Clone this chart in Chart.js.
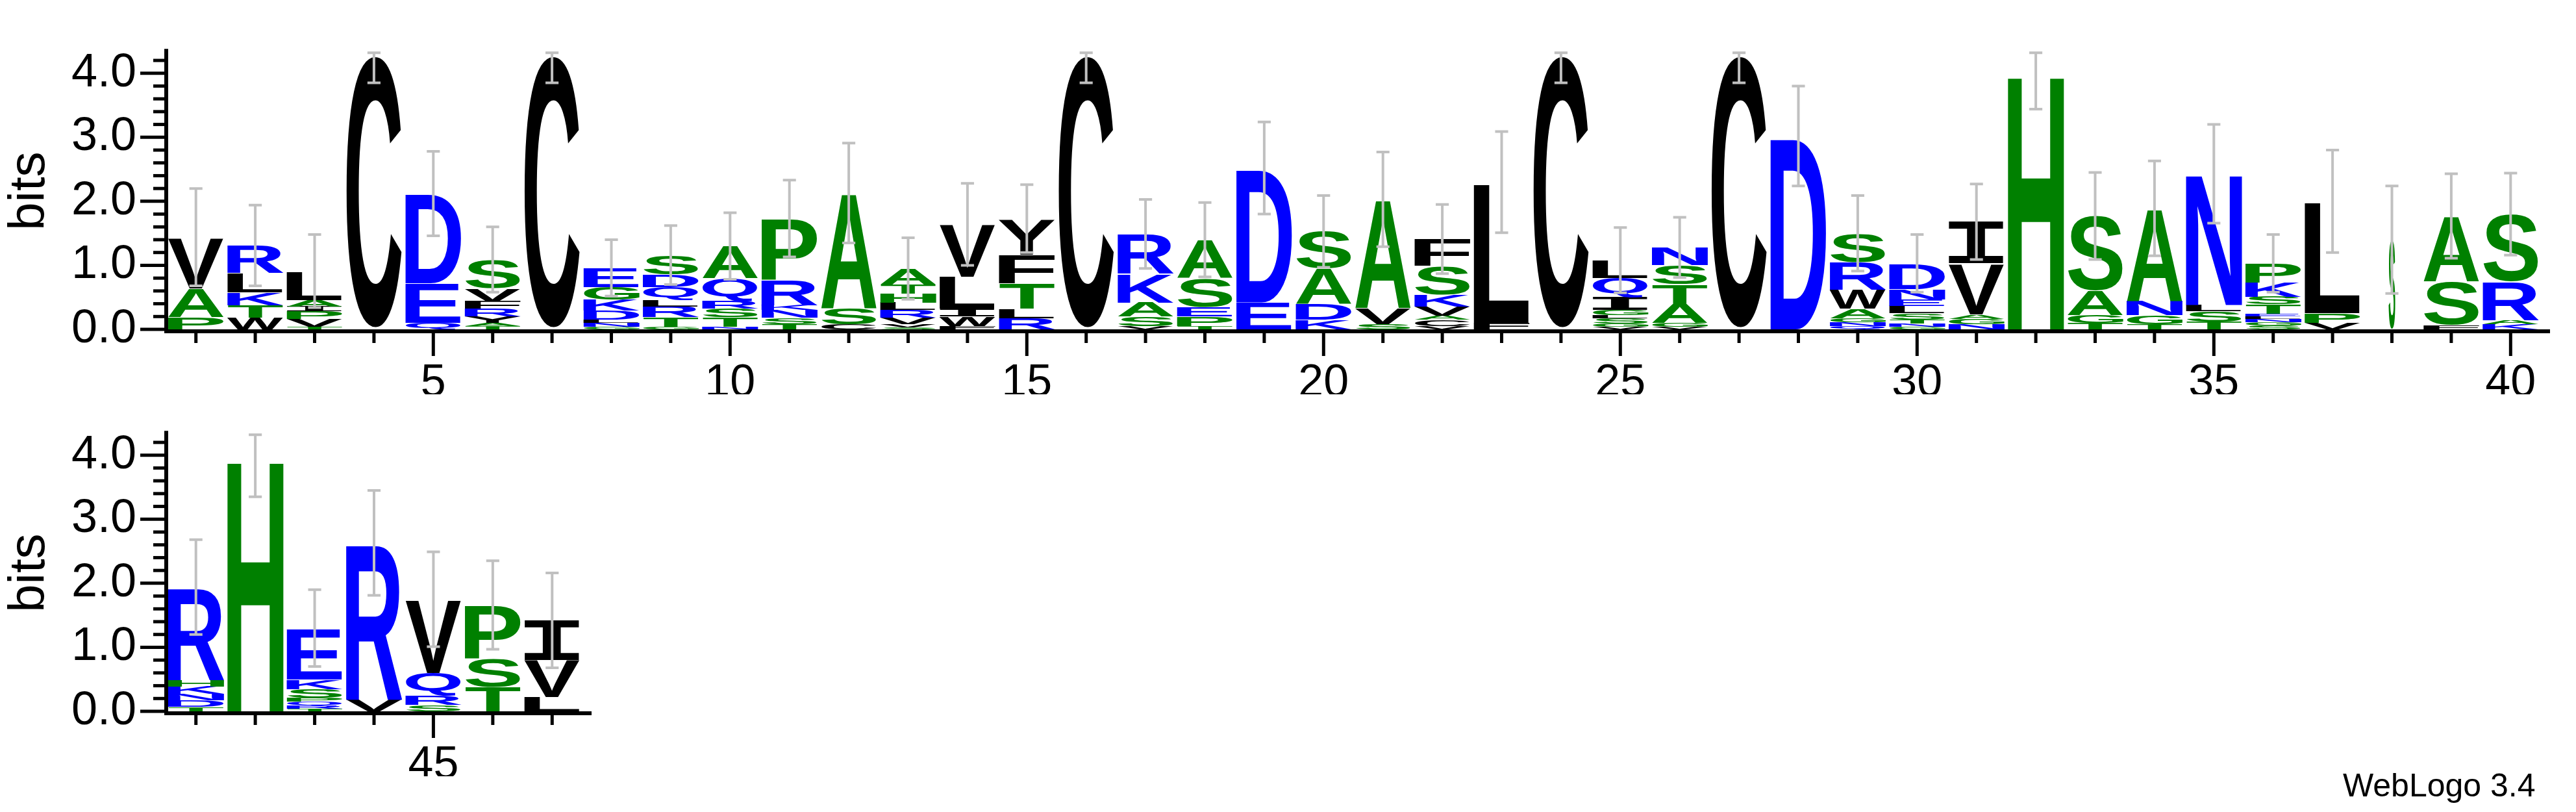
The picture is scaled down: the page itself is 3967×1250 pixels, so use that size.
<!DOCTYPE html>
<html>
<head>
<meta charset="utf-8">
<script src="https://cdn.jsdelivr.net/npm/chart.js@4.4.0/dist/chart.umd.min.js"></script>
<style>
  body { margin: 0; background: #fff; width: 3967px; height: 1250px; overflow: hidden; position: relative; }
  .panel { position: absolute; left: 0; }
  #credit { position: absolute; left: 3608px; top: 1180px; font: 50px "Liberation Sans", Arial, sans-serif; color: #000; }
</style>
</head>
<body>
<div class="panel" style="top:0px;width:3967px;height:607px"><canvas id="logoTop"></canvas></div>
<div class="panel" style="top:588px;width:960px;height:607px"><canvas id="logoBottom"></canvas></div>
<div id="credit">WebLogo 3.4</div>
<script>
// SEQUENCE LOGO DATA (positions 1..47, letters listed bottom -> top)

const positions = Array.from({ length: 47 }, (_, i) => String(i + 1));

const stackLetters = [
  'PAV', 'WTKLR', 'TVPIAL', 'C', 'QED', 'TAYRFVS', 'C', 'GNLDKGE', 'GTRLQDS', 'NTSRQA',
  'TSNKRP', 'CSA', 'SVVRLHTA', 'FWILV', 'RLTFY', 'C', 'VSAKR', 'TPESA', 'ED', 'KDAS',
  'SVA', 'VCAVKSF', 'FL', 'C', 'VGSLGIQL', 'VGATSN', 'C', 'D', 'QNGAWRS', 'GNTSLEND',
  'NGAVI', 'H', 'TGAS', 'TGNA', 'TSLN', 'SGNLETSKP', 'VPL', 'S', 'FSA', 'KARS',
  'TDNKHR', 'H', 'TRQPSKE', 'VR', 'SRQV', 'TSP', 'LVI'
];

const stackBits = [
  [0.19, 0.45, 0.8], [0.18, 0.2, 0.2, 0.3, 0.43], [0.04, 0.12, 0.12, 0.08, 0.1, 0.45], [4.28],
  [0.1, 0.62, 1.4], [0.05, 0.05, 0.1, 0.12, 0.12, 0.2, 0.45], [4.28],
  [0.04, 0.06, 0.05, 0.14, 0.17, 0.2, 0.3], [0.04, 0.15, 0.17, 0.1, 0.2, 0.2, 0.3],
  [0.04, 0.15, 0.13, 0.12, 0.36, 0.5],
  [0.08, 0.1, 0.12, 0.08, 0.4, 0.95], [0.08, 0.25, 1.8], [0.03, 0.05, 0.1, 0.12, 0.12, 0.14, 0.14, 0.25],
  [0.05, 0.15, 0.12, 0.5, 0.82], [0.17, 0.15, 0.4, 0.45, 0.56], [4.28], [0.05, 0.15, 0.22, 0.45, 0.62],
  [0.05, 0.15, 0.15, 0.45, 0.6], [0.42, 2.1], [0.15, 0.25, 0.55, 0.58],
  [0.08, 0.25, 1.7], [0.05, 0.1, 0.06, 0.15, 0.18, 0.45, 0.42], [0.1, 2.2], [4.28],
  [0.04, 0.05, 0.08, 0.05, 0.08, 0.2, 0.3, 0.28], [0.04, 0.06, 0.3, 0.3, 0.3, 0.28], [4.28], [3.02],
  [0.05, 0.06, 0.06, 0.15, 0.3, 0.43, 0.45], [0.04, 0.05, 0.06, 0.1, 0.12, 0.1, 0.16, 0.4],
  [0.08, 0.08, 0.07, 0.8, 0.65], [4.0], [0.1, 0.12, 0.38, 1.17], [0.08, 0.14, 0.22, 1.45],
  [0.12, 0.16, 0.1, 2.05], [0.06, 0.05, 0.05, 0.04, 0.04, 0.15, 0.12, 0.22, 0.3], [0.1, 0.15, 1.75],
  [1.4], [0.07, 0.68, 1.02], [0.08, 0.06, 0.6, 1.06],
  [0.07, 0.1, 0.1, 0.12, 0.1, 1.45], [3.95], [0.04, 0.05, 0.06, 0.06, 0.14, 0.15, 0.8], [0.18, 2.45],
  [0.1, 0.15, 0.35, 1.15], [0.38, 0.45, 0.83], [0.22, 0.58, 0.62]
];

const errHalf = [
  0.76, 0.63, 0.57, 0.43, 0.66, 0.51, 0.43, 0.44, 0.46, 0.52,
  0.6, 0.78, 0.48, 0.64, 0.53, 0.43, 0.54, 0.58, 0.72, 0.56,
  0.74, 0.54, 0.79, 0.43, 0.51, 0.47, 0.43, 0.78, 0.59, 0.45,
  0.59, 0.56, 0.68, 0.74, 0.77, 0.45, 0.8, 0.84, 0.66, 0.64,
  0.74, 0.6, 0.6, 0.82, 0.74, 0.69, 0.74
];

const yLabels = ['0.0', '1.0', '2.0', '3.0', '4.0'];

// hydrophobicity colours
const letterColor = {};
'RKDENQ'.split('').forEach(c => letterColor[c] = '#0000ff');
'SGHTAP'.split('').forEach(c => letterColor[c] = '#008000');
'YVMCLFIW'.split('').forEach(c => letterColor[c] = '#000000');

// column 38 is drawn narrow in the original
const narrowCols = { 38: 0.12 };

const YMAX = 4.32;
const LABEL_FONT = '"Liberation Sans Narrow", "Liberation Sans", Arial, sans-serif';

// GLYPH MEASURING ("I" gets a serif face like the original)

function glyphFont(ch) {
    return ch === 'I' ? 'bold 400px "DejaVu Sans Mono", monospace'
                      : 'bold 400px "Liberation Sans", Arial, sans-serif';
}

const glyphCache = {};
function glyphBox(ctx, ch) {
    if (!glyphCache[ch]) {
        ctx.save();
        ctx.font = glyphFont(ch);
        const m = ctx.measureText(ch);
        glyphCache[ch] = {
            left: m.actualBoundingBoxLeft,
            w: m.actualBoundingBoxLeft + m.actualBoundingBoxRight,
            asc: m.actualBoundingBoxAscent,
            h: m.actualBoundingBoxAscent + m.actualBoundingBoxDescent
        };
        ctx.restore();
    }
    return glyphCache[ch];
}

// PLUGIN: letters, error bars, axis ticks

const logoPlugin = {
    id: 'logo',
    afterDatasetsDraw(chart) {
        const ctx = chart.ctx;
        const off = chart.options.plugins.logo.offset;
        const xs = chart.scales.x, ys = chart.scales.y;

        chart.data.datasets.forEach((ds, d) => {
            const meta = chart.getDatasetMeta(d);
            meta.data.forEach((el, i) => {
                const v = ds.data[i];
                if (!v) return;
                const ch = stackLetters[off + i][d];
                const g = glyphBox(ctx, ch);
                let w = el.width;
                const narrow = narrowCols[off + i + 1];
                if (narrow) w = w * narrow;
                const h = Math.abs(el.base - el.y);
                const left = el.x - w / 2, top = Math.min(el.y, el.base);
                ctx.save();
                ctx.translate(left, top);
                ctx.scale(w / g.w, h / g.h);
                ctx.font = glyphFont(ch);
                ctx.fillStyle = letterColor[ch];
                ctx.textBaseline = 'alphabetic';
                ctx.fillText(ch, g.left, g.asc);
                ctx.restore();
            });
        });

        // error bars
        const colW = xs.getPixelForValue(1) - xs.getPixelForValue(0);
        ctx.save();
        ctx.strokeStyle = '#c0c0c0';
        ctx.lineWidth = 4;
        chart.data.labels.forEach((lab, i) => {
            const total = stackBits[off + i].reduce((a, b) => a + b, 0);
            const e = errHalf[off + i];
            const x = xs.getPixelForValue(i);
            const y1 = ys.getPixelForValue(Math.max(0, total - e));
            const y2 = ys.getPixelForValue(Math.min(YMAX, total + e));
            const cap = colW * 0.11;
            ctx.beginPath();
            ctx.moveTo(x, y1); ctx.lineTo(x, y2);
            ctx.moveTo(x - cap, y1); ctx.lineTo(x + cap, y1);
            ctx.moveTo(x - cap, y2); ctx.lineTo(x + cap, y2);
            ctx.stroke();
        });
        ctx.restore();

        // axes
        const area = chart.chartArea;
        ctx.save();
        ctx.strokeStyle = '#000';
        ctx.lineWidth = 6;
        ctx.beginPath();
        ctx.moveTo(area.left, area.top - 6);
        ctx.lineTo(area.left, area.bottom + 3);
        ctx.lineTo(area.right + 15, area.bottom + 3);
        ctx.stroke();
        ctx.lineWidth = 5;
        for (let k = 0; k <= 21; k++) {
            const v = k * 0.2;
            const y = ys.getPixelForValue(v);
            const len = (k % 5 === 0) ? 40 : 20;
            ctx.beginPath();
            ctx.moveTo(area.left - len, y); ctx.lineTo(area.left, y);
            ctx.stroke();
        }
        chart.data.labels.forEach((lab, i) => {
            const x = xs.getPixelForValue(i);
            const len = (Number(lab) % 5 === 0) ? 38 : 18;
            ctx.beginPath();
            ctx.moveTo(x, area.bottom + 3); ctx.lineTo(x, area.bottom + 3 + len);
            ctx.stroke();
        });
        ctx.restore();
    }
};

// BUILD ONE PANEL

function makeLogo(canvasId, start, count) {
    const labels = positions.slice(start, start + count);
    const depth = Math.max(...stackBits.slice(start, start + count).map(s => s.length));
    const datasets = [];
    for (let d = 0; d < depth; d++) {
        datasets.push({
            data: labels.map((l, i) => stackBits[start + i][d] || 0),
            backgroundColor: 'rgba(0,0,0,0)',
            borderWidth: 0,
            barPercentage: 0.95,
            categoryPercentage: 1.0
        });
    }

    new Chart(document.getElementById(canvasId), {
        type: 'bar',
        data: { labels, datasets },
        plugins: [logoPlugin],
        options: {
            responsive: true,
            maintainAspectRatio: false,
            animation: false,
            layout: { padding: { top: 50, right: start === 0 ? 55 : 64, left: 0, bottom: 0 } },
            plugins: {
                legend: { display: false },
                tooltip: { enabled: false },
                logo: { offset: start }
            },
            scales: {
                x: {
                    stacked: true,
                    grid: { display: false },
                    border: { display: false },
                    afterFit: s => { s.height = 100; },
                    ticks: {
                        autoSkip: false,
                        maxRotation: 0,
                        padding: 34,
                        color: '#000',
                        font: { size: 70, family: LABEL_FONT },
                        callback: function (v) {
                            const lab = this.getLabelForValue(v);
                            return Number(lab) % 5 === 0 ? lab : '';
                        }
                    }
                },
                y: {
                    stacked: true,
                    min: 0,
                    max: YMAX,
                    grid: { display: false },
                    border: { display: false },
                    afterFit: s => { s.width = 256; },
                    title: {
                        display: true,
                        text: 'bits',
                        color: '#000',
                        padding: { top: 0, bottom: 8 },
                        font: { size: 78, family: '"Liberation Sans", Arial, sans-serif' }
                    },
                    afterBuildTicks: s => {
                        s.ticks = yLabels.map(t => ({ value: Number(t) }));
                    },
                    ticks: {
                        padding: 38,
                        color: '#000',
                        font: { size: 72, family: LABEL_FONT },
                        callback: v => yLabels[Math.round(v)]
                    }
                }
            }
        }
    });
}

makeLogo('logoTop', 0, 40);
makeLogo('logoBottom', 40, 7);
</script>
</body>
</html>
